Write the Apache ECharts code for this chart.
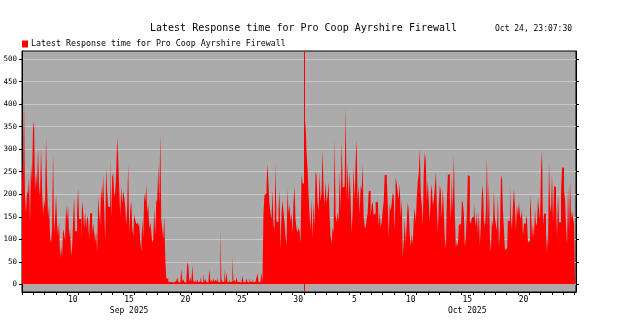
<!DOCTYPE html>
<html><head><meta charset="utf-8">
<script src="https://cdn.jsdelivr.net/npm/echarts@6/dist/echarts.min.js"></script>
<style>html,body{margin:0;padding:0;background:#fff}#c{width:626px;height:333px}</style>
</head><body><div id="c"></div>
<script>
const titleText = 'Latest Response time for Pro Coop Ayrshire Firewall';
const stampText = 'Oct 24, 23:07:30';
const startUTC = Date.UTC(2025, 8, 6);
const stepMinutes = 128;

// Sep 6 -> Sep 18 evening
const respSepA = [280,228,409,196,158,207,200,239,137,267,
226,347,362,208,250,215,303,218,195,305,
214,152,187,171,327,226,147,175,106,91,
124,292,113,150,200,137,107,139,58,85,
61,123,113,98,176,143,175,104,125,64,
81,139,194,118,118,162,214,145,145,101,
186,162,124,162,123,152,143,100,158,158,
112,135,115,95,117,70,196,158,133,217,
185,242,172,95,260,206,172,172,284,148,
239,247,196,203,248,326,280,216,150,218,
180,207,193,174,132,172,266,113,164,186,
126,106,154,144,134,137,129,134,96,73,
145,101,202,183,220,158,180,123,137,118,
92,100,170,109,183,189,264,179,335,145,
123,100,152,58,13];
// Sep 18 evening -> Sep 27 morning (low period)
const respLow = [13,6,5,4,5,6,4,5,8,5,15,5,4,6,34,6,12,5,4,7,
50,41,6,15,5,41,7,5,12,4,10,5,6,18,5,4,24,6,12,5,
4,6,34,5,10,4,13,5,10,6,16,5,4,124,12,5,6,34,5,28,
6,4,11,5,6,63,5,10,4,15,6,5,8,4,6,19,5,4,6,13,
5,4,13,6,5,12,4,6,5,15,24,6,4,5,26,6];
// Sep 27 -> Oct 10
const respLateSep = [160,198,202,217,268,223,178,158,145,209,
132,122,268,139,139,166,209,75,157,186,
160,138,106,85,211,158,178,139,159,113,
183,217,145,124,115,126,118,92,245,224,
224,305,367,291,256,200,156,121,189,102,
183,126,251,241,183,161,249,183,206,300,
208,178,229,181,196,228,154,106,91,126,
115,322,154,138,160,139,249,165,317,215,
217,219,394,187,272,184,250,189,115,163,
261,185,274,322,180,220,155,220,209,267,
150,129,124,146,158,206,209,150,176,183,
154,158,183,182,198,129,159,126,138,165,
183,243,243,235,183,104,180,163,180,203,
198,118,237,224,206,189,224,150,187,61,
95,146,92,135,183,165,109,84,112,89,
144,170,136,192,229,246,302];
// Oct 10 -> Oct 24
const respOct = [202,178,130,250,291,276,185,230,185,139,
203,222,175,188,215,249,181,117,176,220,
208,146,214,161,101,80,180,243,245,198,
139,239,160,288,159,82,95,84,132,135,
113,187,180,158,82,106,158,243,240,143,
134,149,149,182,148,128,161,113,162,87,
139,202,220,144,128,160,283,128,228,101,
72,143,128,207,147,133,119,196,84,121,
232,243,165,123,76,80,64,143,139,220,
149,123,175,212,172,119,176,154,182,153,
145,167,107,135,135,155,145,93,96,200,
167,103,134,103,169,130,137,192,166,143,
254,300,132,158,156,70,112,78,271,176,
159,248,135,219,215,181,106,200,138,138,
200,260,258,208,189,129,88,217,115,229,
145,163,145,135,135];

const yTicks = [0,50,100,150,200,250,300,350,400,450,500];
const dayLabelDates = ['2025-09-10','2025-09-15','2025-09-20','2025-09-25','2025-09-30','2025-10-05','2025-10-10','2025-10-15','2025-10-20'];
const monthLabels = {'2025-09-15':'Sep 2025','2025-10-15':'Oct 2025'};
const monthBoundary = '2025-10-01';
const xSpanDays = 49.15;

const dayOf = s => (Date.parse(s + 'T00:00:00Z') - startUTC) / 86400000;
const labelPos = dayLabelDates.map(s => dayOf(s) + 0.5);
const dayTicks = [];
for (let d = 0; d <= Math.floor(xSpanDays); d++) dayTicks.push(d);

const values = respSepA.concat(respLow, respLateSep, respOct);
const data = values.map((v, i) => [i * stepMinutes / 1440, v]);

const mono = 'DejaVu Sans Mono';
const chart = echarts.init(document.getElementById('c'), null, {renderer: 'canvas'});
chart.setOption({
  animation: false,
  backgroundColor: '#ffffff',
  title: {
    text: titleText, left: 145, top: 18,
    textStyle: {fontFamily: mono, fontSize: 10, fontWeight: 'normal', color: '#000'}
  },
  graphic: [{
    type: 'text', left: 495, top: 25,
    style: {text: stampText, font: '8px "DejaVu Sans Mono"', fill: '#000'}
  }],
  legend: {
    left: 22, top: 40, itemWidth: 6, itemHeight: 7, icon: 'rect', itemGap: 3, padding: 0,
    textStyle: {fontFamily: mono, fontSize: 8.3, color: '#000', padding: [0,0,0,-2]},
    data: [titleText]
  },
  grid: {
    left: 22, top: 51, width: 554, height: 241,
    show: true, backgroundColor: '#ababab', borderColor: '#000', borderWidth: 1
  },
  xAxis: {
    type: 'value', min: 0, max: xSpanDays,
    axisLine: {show: true, onZero: false, lineStyle: {color: '#000', width: 1}},
    axisTick: {show: true, inside: false, length: 3, customValues: dayTicks, lineStyle: {color: '#000'}},
    axisLabel: {
      show: true, customValues: labelPos, margin: 3,
      fontFamily: mono, fontSize: 8, color: '#000', lineHeight: 10.5,
      formatter: v => {
        const k = labelPos.findIndex(p => Math.abs(p - v) < 1e-6);
        if (k < 0) return '';
        const s = dayLabelDates[k];
        const d = String(parseInt(s.slice(8), 10));
        return monthLabels[s] ? d + '\n' + monthLabels[s] : d;
      }
    },
    splitLine: {show: false}
  },
  yAxis: [{
    type: 'value', min: -17, max: 518, position: 'left',
    axisLine: {show: true, lineStyle: {color: '#000', width: 1}},
    axisTick: {show: true, inside: false, length: 3, customValues: yTicks, lineStyle: {color: '#000'}},
    axisLabel: {show: true, customValues: yTicks, margin: 5, fontFamily: mono, fontSize: 7.5, color: '#000'},
    splitLine: {show: true, lineStyle: {color: '#c8c8c8', width: 1}}
  }, {
    type: 'value', min: -17, max: 518, position: 'right',
    axisLine: {show: true, lineStyle: {color: '#000', width: 1}},
    axisTick: {show: true, inside: false, length: 3, customValues: yTicks, lineStyle: {color: '#000'}},
    axisLabel: {show: false},
    splitLine: {show: false}
  }],
  series: [{
    name: titleText,
    type: 'line', step: 'end', data: data, symbol: 'none',
    itemStyle: {color: '#ff0000'},
    lineStyle: {width: 0, color: '#ff0000'},
    areaStyle: {color: '#ff0000', opacity: 1, origin: 0},
    markLine: {
      silent: true, symbol: 'none', label: {show: false},
      lineStyle: {color: '#ff0000', width: 1, type: 'solid'},
      data: [{xAxis: dayOf(monthBoundary)}]
    }
  }]
});
</script></body></html>
